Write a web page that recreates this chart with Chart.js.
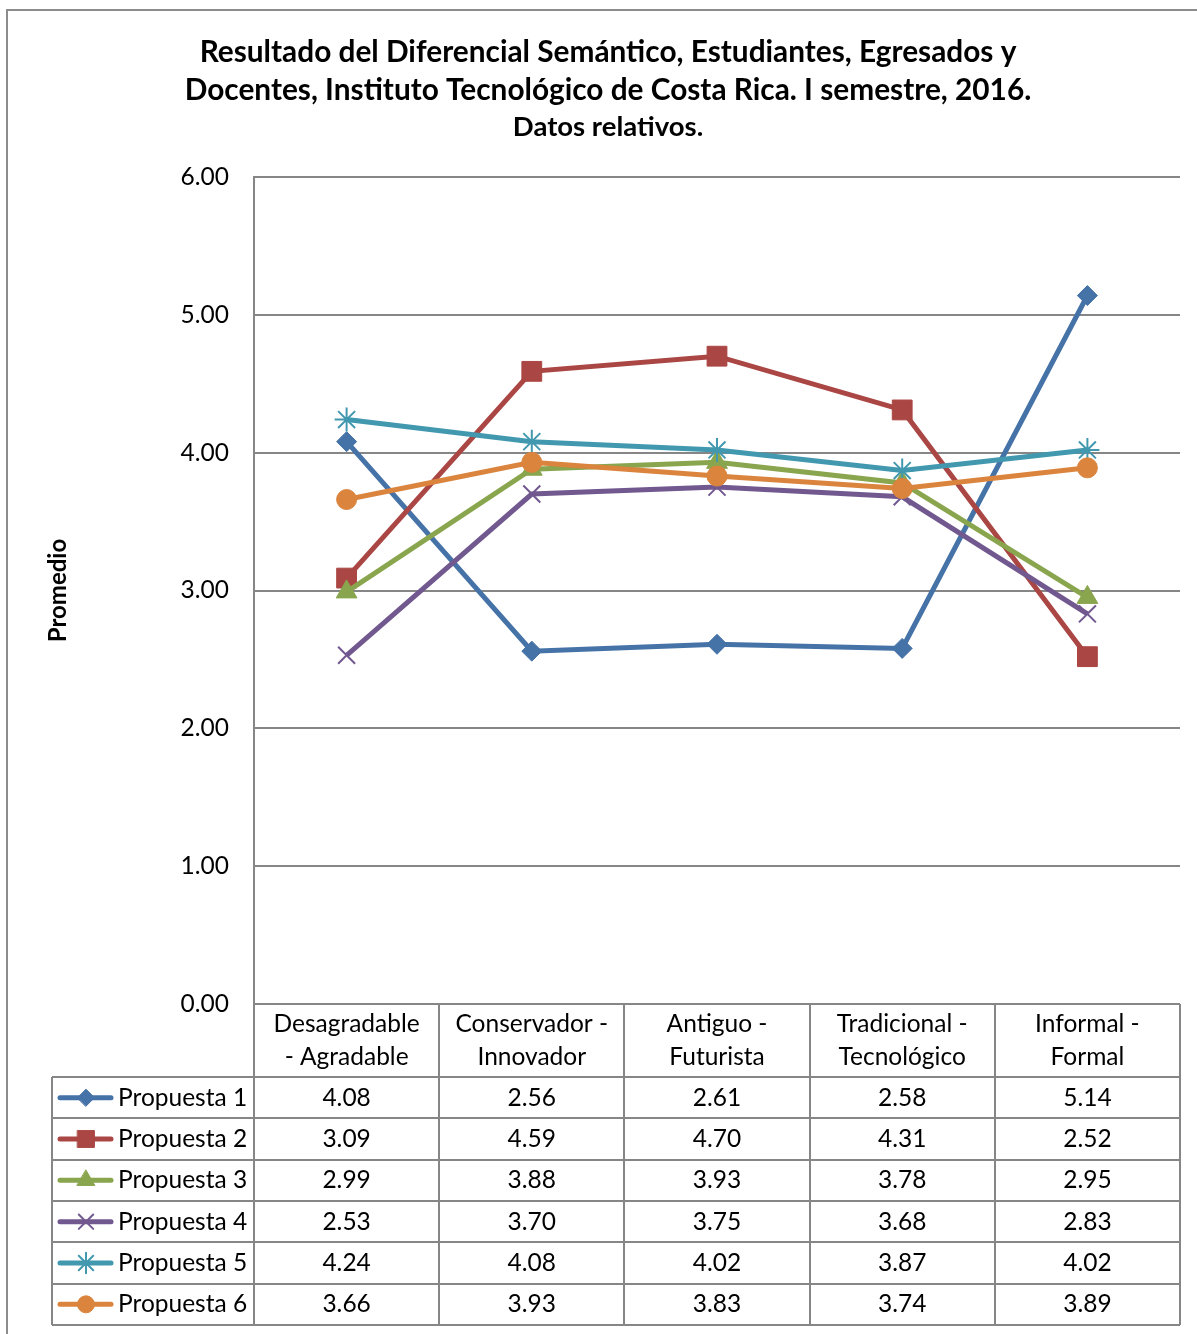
<html>
<head>
<script src="https://cdn.jsdelivr.net/npm/chart.js@4.4.1/dist/chart.umd.min.js"></script>
<style>
  body { margin: 0; background: #fff; }
  #wrap { width: 1197px; height: 1334px; }
</style>
</head>
<body>
<div id="wrap"><canvas id="dataChart" width="1197" height="1334"></canvas></div>
<script>
  // categories (two lines each, as shown in the data table header)
  var categories = [
    ["Desagradable", "- Agradable"],
    ["Conservador -", "Innovador"],
    ["Antiguo -", "Futurista"],
    ["Tradicional -", "Tecnológico"],
    ["Informal -", "Formal"]
  ];
  var seriesNames = ["Propuesta 1", "Propuesta 2", "Propuesta 3", "Propuesta 4", "Propuesta 5", "Propuesta 6"];
  var propuesta1 = [4.08, 2.56, 2.61, 2.58, 5.14];
  var propuesta2 = [3.09, 4.59, 4.70, 4.31, 2.52];
  var propuesta3 = [2.99, 3.88, 3.93, 3.78, 2.95];
  var propuesta4 = [2.53, 3.70, 3.75, 3.68, 2.83];
  var propuesta5 = [4.24, 4.08, 4.02, 3.87, 4.02];
  var propuesta6 = [3.66, 3.93, 3.83, 3.74, 3.89];
  var yTicks = [0, 1, 2, 3, 4, 5, 6];

  var titleLines = [
    "Resultado del Diferencial Semántico, Estudiantes, Egresados y",
    "Docentes, Instituto Tecnológico de Costa Rica. I semestre, 2016."
  ];
  var subtitle = "Datos relativos.";
  var yTitle = "Promedio";

  var FONT = "Lato, 'Open Sans', sans-serif";
  var GRID = "#868686";
  var TXT = 24.5;

  var seriesData = [propuesta1, propuesta2, propuesta3, propuesta4, propuesta5, propuesta6];
  var colors = ["#4572A7", "#AA4643", "#89A54E", "#71588F", "#4198AF", "#DB843D"];
  var styles = ["rectRot", "rect", "triangle", "crossRot", "star", "circle"];
  var radii = [10, 14, 12, 12, 12, 10];
  var pBorder = [1, 1, 1, 2, 2, 1];

  var datasets = seriesData.map(function (d, i) {
    return {
      label: seriesNames[i],
      data: d,
      borderColor: colors[i],
      backgroundColor: colors[i],
      borderWidth: 5,
      tension: 0,
      pointStyle: styles[i],
      pointRadius: radii[i],
      pointBorderWidth: pBorder[i],
      pointBackgroundColor: colors[i],
      pointBorderColor: colors[i],
      order: seriesData.length - i
    };
  });

  var framePlugin = {
    id: "frame",
    beforeDraw: function (chart) {
      var c = chart.ctx;
      c.save();
      c.fillStyle = "#fff";
      c.fillRect(0, 0, chart.width, chart.height);
      c.strokeStyle = "#8c8c8c";
      c.lineWidth = 2;
      c.strokeRect(7, 10, chart.width + 50, chart.height + 50);
      // title
      c.fillStyle = "#000";
      c.textAlign = "center";
      c.textBaseline = "middle";
      c.font = "bold 29.8px " + FONT;
      c.fillText(titleLines[0], 608, 52);
      c.fillText(titleLines[1], 608, 90);
      c.font = "bold 27.5px " + FONT;
      c.fillText(subtitle, 608, 127);
      c.restore();
    },
    afterDraw: function (chart) {
      var c = chart.ctx;
      var xs = chart.scales.x;
      var area = chart.chartArea;
      var n = categories.length;
      var w = (area.right - area.left) / n;
      var headTop = area.bottom;
      var headBot = 1077;
      var rowH = (1325 - headBot) / seriesData.length;
      var tableLeft = 52;
      c.save();
      c.strokeStyle = GRID;
      c.lineWidth = 2;
      c.beginPath();
      // vertical lines of the category columns
      for (var i = 0; i <= n; i++) {
        var x = Math.round(area.left + i * w);
        c.moveTo(x, headTop);
        c.lineTo(x, 1325);
      }
      // left edge of the legend column
      c.moveTo(tableLeft, headBot);
      c.lineTo(tableLeft, 1325);
      // horizontal row lines
      for (var r = 0; r <= seriesData.length; r++) {
        var y = Math.round(headBot + r * rowH);
        c.moveTo(tableLeft, y);
        c.lineTo(area.right, y);
      }
      c.stroke();

      c.fillStyle = "#000";
      c.textAlign = "center";
      c.textBaseline = "middle";
      c.font = TXT + "px " + FONT;
      for (var j = 0; j < n; j++) {
        var cx = xs.getPixelForValue(j);
        c.fillText(categories[j][0], cx, 1024);
        c.fillText(categories[j][1], cx, 1057);
      }
      for (var s = 0; s < seriesData.length; s++) {
        var cy = headBot + (s + 0.5) * rowH;
        for (var k = 0; k < n; k++) {
          c.fillStyle = "#000";
          c.fillText(seriesData[s][k].toFixed(2), xs.getPixelForValue(k), cy);
        }
        // legend key
        c.strokeStyle = colors[s];
        c.lineWidth = 5;
        c.lineCap = "round";
        c.beginPath();
        c.moveTo(60, cy);
        c.lineTo(111, cy);
        c.stroke();
        c.fillStyle = colors[s];
        c.strokeStyle = colors[s];
        c.lineWidth = pBorder[s];
        Chart.helpers.drawPoint(c, {
          pointStyle: styles[s],
          radius: radii[s] * 0.85,
          rotation: 0,
          borderWidth: pBorder[s]
        }, 86, cy);
        c.fillStyle = "#000";
        c.textAlign = "left";
        c.fillText(seriesNames[s], 118, cy);
        c.textAlign = "center";
      }
      c.restore();
    }
  };

  var ctx = document.getElementById("dataChart");
  var myChart = new Chart(ctx, {
    type: "line",
    data: {
      labels: categories.map(function (c) { return c.join(" "); }),
      datasets: datasets
    },
    options: {
      responsive: false,
      animation: false,
      layout: { padding: { top: 177, left: 0, right: 17, bottom: 330 } },
      plugins: {
        legend: { display: false },
        title: { display: false },
        tooltip: { enabled: false }
      },
      scales: {
        x: { display: false, offset: true },
        y: {
          min: 0,
          max: 6,
          afterBuildTicks: function (scale) {
            scale.ticks = yTicks.map(function (v) { return { value: v }; });
          },
          afterFit: function (scale) { scale.width = 254; },
          ticks: {
            padding: 25,
            color: "#000",
            font: { family: FONT, size: TXT },
            callback: function (v) { return Number(v).toFixed(2); }
          },
          grid: { color: GRID, lineWidth: 2, drawTicks: false },
          border: { display: true, color: GRID, width: 2 },
          title: {
            display: true,
            text: yTitle,
            color: "#000",
            font: { family: FONT, size: 24, weight: "bold" },
            padding: { top: 43.6, bottom: 0 }
          }
        }
      }
    },
    plugins: [framePlugin]
  });
</script>
</body>
</html>
